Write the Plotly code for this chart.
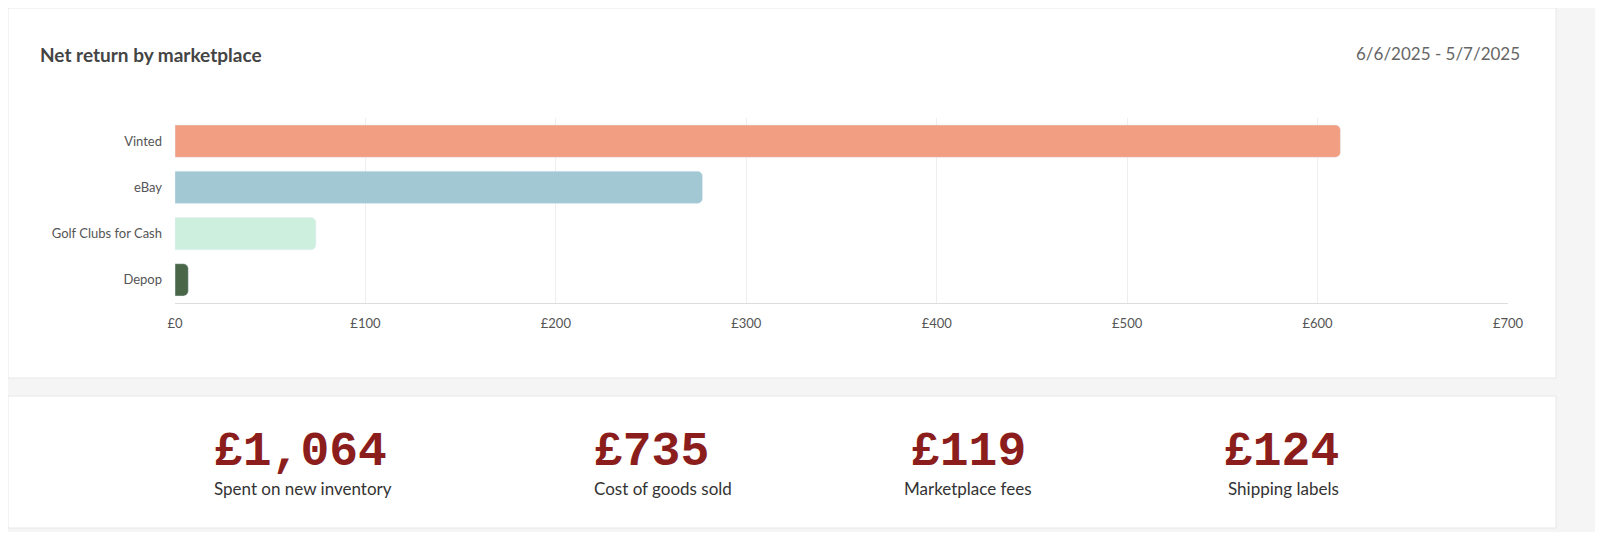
import plotly.graph_objects as go

marketplaces = ["Vinted", "eBay", "Golf Clubs for Cash", "Depop"]
net_return = [612, 277, 74, 7]
bar_colors = ["#f29e82", "#a2c8d3", "#cdf0de", "#4a6648"]

kpi_values = ["£1,064", "£735", "£119", "£124"]
kpi_labels = ["Spent on new inventory", "Cost of goods sold", "Marketplace fees", "Shipping labels"]
kpi_x = [212, 592, 968, 1341]

# page body has an 8px margin, so the figure is drawn 16px smaller and shifted
OFF = 8
W, H = 1603 - 2 * OFF, 540 - 2 * OFF
L, R, T, B = 175 - OFF, 95 - OFF, 118 - OFF, 237 - OFF
PW, PH = W - L - R, H - T - B


def px(x):
    return (x - OFF - L) / PW


def py(y):
    return (H - B - (y - OFF)) / PH


fig = go.Figure(go.Bar(
    y=marketplaces, x=net_return, orientation="h",
    marker=dict(color=bar_colors, cornerradius=5),
    hovertemplate="%{y}: £%{x}<extra></extra>",
))

shapes = [
    dict(type="rect", xref="paper", yref="paper", x0=px(8), x1=px(1556), y0=py(378), y1=py(8),
         fillcolor="white", line=dict(color="#e8e8e8", width=1), layer="below"),
    dict(type="rect", xref="paper", yref="paper", x0=px(8), x1=px(1556), y0=py(528), y1=py(396),
         fillcolor="white", line=dict(color="#e8e8e8", width=1), layer="below"),
]

annotations = [
    dict(text="Net return by marketplace", x=px(38), y=py(55), xref="paper", yref="paper",
         xanchor="left", yanchor="middle", showarrow=False,
         font=dict(size=19, color="#444", family="Lato", weight="bold")),
    dict(text="6/6/2025 - 5/7/2025", x=px(1522), y=py(53), xref="paper", yref="paper",
         xanchor="right", yanchor="middle", showarrow=False,
         font=dict(size=17, color="#666", family="Lato")),
]
for v, lab, x in zip(kpi_values, kpi_labels, kpi_x):
    annotations.append(dict(text=v, x=px(x), y=py(452), xref="paper", yref="paper",
                            showarrow=False, yanchor="middle",
                            font=dict(size=48, color="#8b1d1d", family="Liberation Mono", weight="bold")))
    annotations.append(dict(text=lab, x=px(x), y=py(488), xref="paper", yref="paper",
                            showarrow=False, yanchor="middle",
                            font=dict(size=17, color="#333", family="Lato")))

fig.update_layout(
    width=W, height=H,
    margin=dict(l=L, r=R, t=T, b=B),
    paper_bgcolor="#f5f5f5", plot_bgcolor="white",
    font=dict(family="Lato", size=13, color="#555"),
    bargap=0.3, showlegend=False,
    shapes=shapes, annotations=annotations,
    xaxis=dict(range=[0, 700], dtick=100, tickprefix="£", showgrid=True, gridcolor="#eeeeee",
               zeroline=False, showline=True, linecolor="#dddddd", ticks="", ticklabelstandoff=8),
    yaxis=dict(autorange="reversed", showgrid=False, ticks="", ticklabelstandoff=12),
)

fig.write_html("out.html")
